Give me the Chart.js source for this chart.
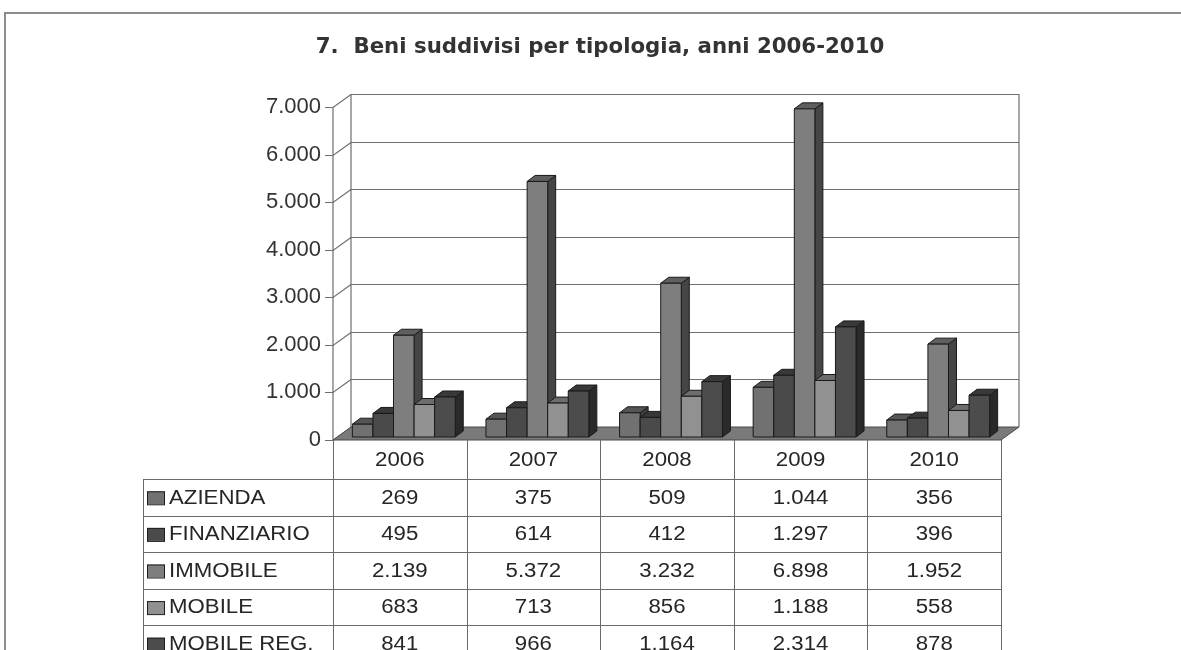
<!DOCTYPE html>
<html>
<head>
<meta charset="utf-8">
<script src="https://cdn.jsdelivr.net/npm/chart.js@4.4.1/dist/chart.umd.min.js"></script>
<style>
  html, body { margin: 0; padding: 0; background: #fff; }
  #wrap { position: relative; width: 1181px; height: 650px; overflow: hidden; }
  #frame { position: absolute; left: 4px; top: 12px; right: -4px; bottom: -10px;
           border-top: 2px solid #8c8c8c; border-left: 2px solid #8c8c8c; }
  canvas { position: absolute; left: 0; top: 0; }
</style>
</head>
<body>
<div id="wrap">
  <div id="frame"></div>
  <canvas id="chart" width="1181" height="650"></canvas>
</div>
<script>
const years = ["2006", "2007", "2008", "2009", "2010"];
const azienda = [269, 375, 509, 1044, 356];
const finanziario = [495, 614, 412, 1297, 396];
const immobile = [2139, 5372, 3232, 6898, 1952];
const mobile = [683, 713, 856, 1188, 558];
const mobileReg = [841, 966, 1164, 2314, 878];
const seriesNames = ["AZIENDA", "FINANZIARIO", "IMMOBILE", "MOBILE", "MOBILE REG."];
const seriesColors = ["#717171", "#4a4a4a", "#7e7e7e", "#919191", "#4c4c4c"];
const titleText = "7.  Beni suddivisi per tipologia, anni 2006-2010";

// italian thousands separator
const fmt = (v) => String(v).replace(/\B(?=(\d{3})+(?!\d))/g, ".");

const shade = (hex, f) => {
  const n = parseInt(hex.slice(1), 16);
  const c = [(n >> 16) & 255, (n >> 8) & 255, n & 255].map((x) => Math.round(x * f));
  return `rgb(${c[0]},${c[1]},${c[2]})`;
};

// 3d offsets: wall depth, bar depth, bar shift inside the floor
const D = { wx: 18, wy: -13, bx: 8, by: -6, sx: 4, sy: -3 };

const poly = (ctx, pts, fill, stroke) => {
  ctx.beginPath();
  ctx.moveTo(pts[0][0], pts[0][1]);
  pts.slice(1).forEach((p) => ctx.lineTo(p[0], p[1]));
  ctx.closePath();
  ctx.fillStyle = fill;
  ctx.fill();
  ctx.strokeStyle = stroke;
  ctx.lineWidth = 1;
  ctx.stroke();
};

const bars3d = {
  id: "bars3d",
  beforeDatasetsDraw(chart) {
    const ctx = chart.ctx;
    const a = chart.chartArea;
    const y = chart.scales.y;
    ctx.save();

    // back wall grid, side ticks
    ctx.strokeStyle = "#6e6e6e";
    ctx.lineWidth = 1.2;
    y.ticks.forEach((t) => {
      const py = Math.round(y.getPixelForValue(t.value)) + 0.5;
      ctx.beginPath();
      if (t.value > 0) {
        ctx.moveTo(a.left + D.wx, py + D.wy);
        ctx.lineTo(a.right + D.wx, py + D.wy);
      }
      ctx.moveTo(a.left - 8, py);
      ctx.lineTo(a.left, py);
      ctx.lineTo(a.left + D.wx, py + D.wy);
      ctx.stroke();
    });
    ctx.beginPath();
    ctx.moveTo(a.left + D.wx, a.top + D.wy);
    ctx.lineTo(a.left + D.wx, a.bottom + D.wy);
    ctx.moveTo(a.right + D.wx, a.top + D.wy);
    ctx.lineTo(a.right + D.wx, a.bottom + D.wy);
    ctx.moveTo(a.left, a.top);
    ctx.lineTo(a.left, a.bottom);
    ctx.stroke();

    // floor
    poly(ctx, [[a.left, a.bottom], [a.right, a.bottom], [a.right + D.wx, a.bottom + D.wy], [a.left + D.wx, a.bottom + D.wy]], "#7a7a7a", "#4a4a4a");

    // bars, category by category, left to right
    for (let i = 0; i < years.length; i++) {
      chart.data.datasets.forEach((ds, d) => {
        const el = chart.getDatasetMeta(d).data[i];
        const p = el.getProps(["x", "y", "base", "width"], true);
        const l = p.x - p.width / 2 + D.sx;
        const r = l + p.width;
        const t = p.y + D.sy;
        const b = p.base + D.sy;
        const col = seriesColors[d];
        poly(ctx, [[r, t], [r + D.bx, t + D.by], [r + D.bx, b + D.by], [r, b]], shade(col, 0.55), "#1a1a1a");
        poly(ctx, [[l, t], [l + D.bx, t + D.by], [r + D.bx, t + D.by], [r, t]], shade(col, 0.75), "#1a1a1a");
        poly(ctx, [[l, t], [r, t], [r, b], [l, b]], col, "#1a1a1a");
      });
    }
    ctx.restore();
    return false;
  },
};

const dataTable = {
  id: "dataTable",
  afterDraw(chart) {
    const ctx = chart.ctx;
    const a = chart.chartArea;
    const x = chart.scales.x;
    const colW = (a.right - a.left) / years.length;
    const headH = 39;
    const rowH = 36.6;
    const labelLeft = 143;
    const top = a.bottom;
    const rowsTop = top + headH;
    const bottom = rowsTop + rowH * seriesNames.length;

    ctx.save();
    // title
    ctx.fillStyle = "#333";
    ctx.font = "bold 21.3px 'DejaVu Sans', sans-serif";
    ctx.textAlign = "center";
    ctx.textBaseline = "middle";
    ctx.fillText(titleText, 600, 47);

    ctx.strokeStyle = "#6a6a6a";
    ctx.lineWidth = 1;
    ctx.beginPath();
    for (let i = 0; i <= years.length; i++) {
      const px = Math.round(a.left + i * colW) + 0.5;
      ctx.moveTo(px, top);
      ctx.lineTo(px, bottom);
    }
    ctx.moveTo(labelLeft + 0.5, rowsTop);
    ctx.lineTo(labelLeft + 0.5, bottom);
    for (let r = 0; r <= seriesNames.length; r++) {
      const py = Math.round(rowsTop + r * rowH) + 0.5;
      ctx.moveTo(labelLeft, py);
      ctx.lineTo(a.right, py);
    }
    ctx.stroke();

    const txt = (s, px, py, align) => {
      ctx.save();
      ctx.translate(px, py);
      ctx.scale(1.14, 1);
      ctx.textAlign = align;
      ctx.fillText(s, 0, 0);
      ctx.restore();
    };
    ctx.fillStyle = "#262626";
    ctx.font = "19.5px 'Liberation Sans', Arial, sans-serif";
    ctx.textBaseline = "middle";
    years.forEach((yr, i) => txt(yr, x.getPixelForValue(i), top + headH / 2 + 1, "center"));

    chart.data.datasets.forEach((ds, d) => {
      const cy = rowsTop + d * rowH + rowH / 2 + 1;
      ctx.fillStyle = seriesColors[d];
      ctx.fillRect(147, cy - 7, 18, 13);
      ctx.strokeStyle = "#1e1e1e";
      ctx.strokeRect(147.5, cy - 6.5, 17, 13);
      ctx.fillStyle = "#262626";
      txt(ds.label, 169, cy, "left");
      ds.data.forEach((v, i) => txt(fmt(v), x.getPixelForValue(i), cy, "center"));
    });
    ctx.restore();
  },
};

new Chart(document.getElementById("chart"), {
  type: "bar",
  data: {
    labels: years,
    datasets: [azienda, finanziario, immobile, mobile, mobileReg].map((vals, d) => ({
      label: seriesNames[d],
      data: vals,
      backgroundColor: seriesColors[d],
      borderWidth: 0,
      categoryPercentage: 0.77,
      barPercentage: 1,
    })),
  },
  options: {
    responsive: false,
    animation: false,
    layout: { padding: { top: 107, right: 180, bottom: 210, left: 0 } },
    plugins: {
      legend: { display: false },
      tooltip: { enabled: false },
      title: { display: false },
    },
    scales: {
      x: { display: false },
      y: {
        min: 0,
        max: 7000,
        grid: { display: false },
        border: { display: false },
        ticks: {
          stepSize: 1000,
          padding: 4,
          color: "#333",
          font: { family: "'Liberation Sans', Arial, sans-serif", size: 22 },
          callback: (v) => fmt(v),
        },
        afterFit: (scale) => { scale.width = 333; },
      },
    },
  },
  plugins: [bars3d, dataTable],
});
</script>
</body>
</html>
